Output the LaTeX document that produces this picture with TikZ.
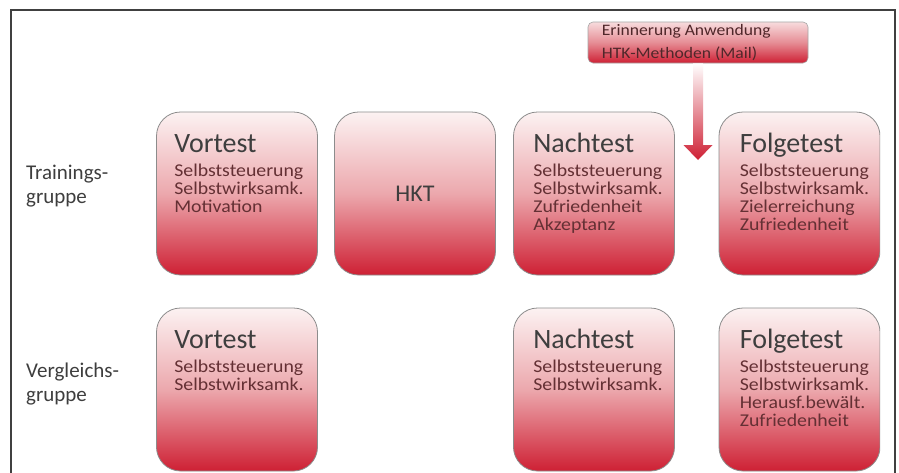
\documentclass[tikz,border=0pt]{standalone}
\usepackage{fontspec}
\setmainfont{Carlito}
\newfontfamily\itemfont{Carlito}[FakeStretch=1.1]
\usetikzlibrary{calc}
\definecolor{boxtop}{RGB}{252,242,242}
\definecolor{boxmid}{RGB}{236,168,173}
\definecolor{boxbot}{RGB}{206,32,52}
\definecolor{titlegray}{RGB}{62,62,62}
\definecolor{itemred}{RGB}{100,48,52}

\begin{document}
\begin{tikzpicture}[x=1pt,y=-1pt,
  box/.style={draw=black!45,line width=0.8pt,rounded corners=24pt,minimum width=161pt,minimum height=163pt,
    inner sep=0pt,top color=boxtop,bottom color=boxbot,middle color=boxmid},
  callbox/.style={draw=black!35,line width=0.6pt,rounded corners=5pt,minimum width=220pt,minimum height=41pt,
    inner sep=0pt,top color=boxtop!70!boxmid,bottom color=boxbot,middle color=boxmid!80!boxbot},
  title/.style={anchor=base west,inner sep=0pt,font=\fontsize{28}{30}\selectfont,text=titlegray},
  item/.style={anchor=base west,inner sep=0pt,font=\itemfont\fontsize{18}{18}\selectfont,text=itemred},
  note/.style={anchor=base west,inner sep=0pt,font=\itemfont\fontsize{16}{18}\selectfont,text=itemred!80!black},
  group/.style={anchor=base west,inner sep=0pt,font=\fontsize{21}{24}\selectfont,text=titlegray},
  arr/.style={top color=white,bottom color=boxbot}]
\useasboundingbox (0,0) rectangle (899,472);
\fill[white] (0,0) rectangle (899,472);

% groups
\node[group] (tg-1) at (26,179) {Trainings-};
\node[group] (tg-2) at (26,203) {gruppe};
\node[group] (vg-1) at (26,377) {Vergleichs-};
\node[group] (vg-2) at (26,401) {gruppe};

\begin{scope}
\clip (0,0) rectangle (880,472);
% Trainingsgruppe
\node[box] (v1) at (237,193.5) {};
\node[box,font=\fontsize{24}{26}\selectfont,text=titlegray] (hkt) at (415,193.5) {HKT};
\node[box] (n1) at (594,193.5) {};
\node[box] (f1) at (799.5,193.5) {};
% Vergleichsgruppe
\node[box] (v2) at (237,389.5) {};
\node[box] (n2) at (594,389.5) {};
\node[box] (f2) at (799.5,389.5) {};
\end{scope}

\node[title] (v1-t) at ($(v1.north west)+(18,41)$) {Vortest};
\node[title] (n1-t) at ($(n1.north west)+(20,41)$) {Nachtest};
\node[title] (f1-t) at ($(f1.north west)+(21,41)$) {Folgetest};
\node[title] (v2-t) at ($(v2.north west)+(18,41)$) {Vortest};
\node[title] (n2-t) at ($(n2.north west)+(20,41)$) {Nachtest};
\node[title] (f2-t) at ($(f2.north west)+(21,41)$) {Folgetest};

\foreach \txt [count=\i] in {Selbststeuerung,Selbstwirksamk.,Motivation}
  \node[item] (v1-\i) at ($(v1.north west)+(18,47+18*\i)$) {\txt};
\foreach \txt [count=\i] in {Selbststeuerung,Selbstwirksamk.,Zufriedenheit,Akzeptanz}
  \node[item] (n1-\i) at ($(n1.north west)+(20,47+18*\i)$) {\txt};
\foreach \txt [count=\i] in {Selbststeuerung,Selbstwirksamk.,Zielerreichung,Zufriedenheit}
  \node[item] (f1-\i) at ($(f1.north west)+(21,47+18*\i)$) {\txt};
\foreach \txt [count=\i] in {Selbststeuerung,Selbstwirksamk.}
  \node[item] (v2-\i) at ($(v2.north west)+(18,47+18*\i)$) {\txt};
\foreach \txt [count=\i] in {Selbststeuerung,Selbstwirksamk.}
  \node[item] (n2-\i) at ($(n2.north west)+(20,47+18*\i)$) {\txt};
\foreach \txt [count=\i] in {Selbststeuerung,Selbstwirksamk.,Herausf.bewält.,Zufriedenheit}
  \node[item] (f2-\i) at ($(f2.north west)+(21,47+18*\i)$) {\txt};

% reminder
\node[callbox] (callout) at (698,42.5) {};
\node[note] (c-1) at ($(callout.north west)+(14,14)$) {Erinnerung Anwendung};
\node[note] (c-2) at ($(callout.north west)+(14,37)$) {HTK-Methoden (Mail)};
\coordinate (tip) at (698,160);
\shade[arr] ($(callout.south)+(-5,0)$) -- ($(tip)+(-5,-15)$) -- ($(tip)+(-14.5,-15)$) -- (tip)
  -- ($(tip)+(14.5,-15)$) -- ($(tip)+(5,-15)$) -- ($(callout.south)+(5,0)$) -- cycle;

% frame
\draw[line width=1.6pt,black!75] (11,10) rectangle (895,490);
\end{tikzpicture}
\end{document}
